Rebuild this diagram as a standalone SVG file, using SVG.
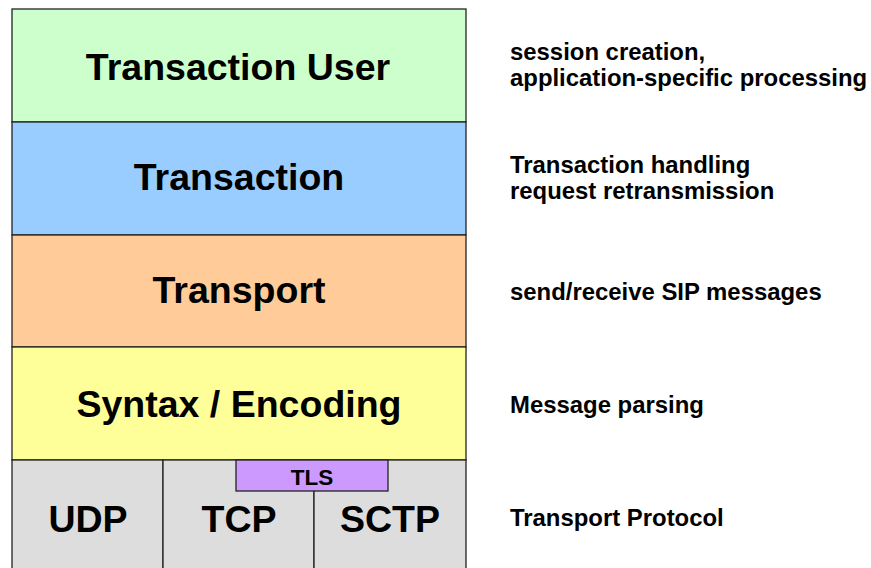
<svg xmlns="http://www.w3.org/2000/svg" width="871" height="568" viewBox="0 0 871 568">
<style>
.box{stroke:#222;stroke-width:1.3}
.big{font-family:"Liberation Sans",Arial,sans-serif;font-weight:bold;font-size:37.5px;fill:#000;text-anchor:middle}
.small{font-family:"Liberation Sans",Arial,sans-serif;font-weight:bold;font-size:23.9px;fill:#000}
.tls{font-family:"Liberation Sans",Arial,sans-serif;font-weight:bold;font-size:22.5px;fill:#000;text-anchor:middle}
</style>
<rect width="871" height="568" fill="#fff"/>
<g id="transaction-user">
<rect class="box" x="12" y="9" width="454" height="113" fill="#CCFFCC"/>
<text class="big" x="238" y="80">Transaction User</text>
</g>
<g id="transaction">
<rect class="box" x="12" y="122" width="454" height="113" fill="#99CCFF"/>
<text class="big" x="239" y="190">Transaction</text>
</g>
<g id="transport">
<rect class="box" x="12" y="235" width="454" height="112" fill="#FFCC99"/>
<text class="big" x="239" y="303">Transport</text>
</g>
<g id="syntax">
<rect class="box" x="12" y="347" width="454" height="113" fill="#FFFF99"/>
<text class="big" x="239" y="417">Syntax / Encoding</text>
</g>
<g id="udp">
<rect class="box" x="12" y="460" width="151" height="112" fill="#DDDDDD"/>
<text class="big" x="88" y="532">UDP</text>
</g>
<g id="tcp">
<rect class="box" x="163" y="460" width="151" height="112" fill="#DDDDDD"/>
<text class="big" x="239" y="532">TCP</text>
</g>
<g id="sctp">
<rect class="box" x="314" y="460" width="152" height="112" fill="#DDDDDD"/>
<text class="big" x="390" y="532">SCTP</text>
</g>
<g id="tls">
<rect class="box" x="236" y="460" width="152" height="31" fill="#CC99FF"/>
<text class="tls" x="312" y="485">TLS</text>
</g>
<g id="connectors"></g>
<g id="descriptions">
<text class="small" x="510" y="60">session creation,</text>
<text class="small" x="510" y="86">application-specific processing</text>
<text class="small" x="510" y="173">Transaction handling</text>
<text class="small" x="510" y="199">request retransmission</text>
<text class="small" x="510" y="300">send/receive SIP messages</text>
<text class="small" x="510" y="413">Message parsing</text>
<text class="small" x="510" y="526">Transport Protocol</text>
</g>
</svg>
